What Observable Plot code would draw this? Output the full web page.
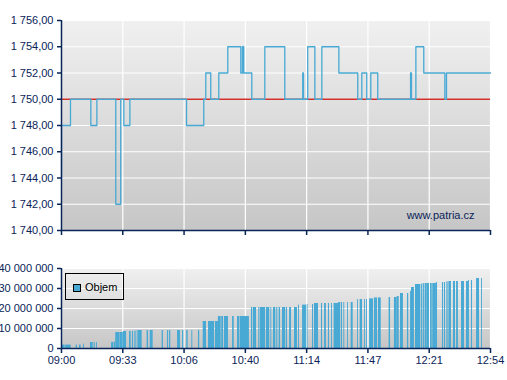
<!DOCTYPE html>
<html>
<head>
<meta charset="utf-8">
<script src="https://cdn.jsdelivr.net/npm/d3@7"></script>
<script src="https://cdn.jsdelivr.net/npm/@observablehq/plot@0.6"></script>
<style>
  html, body { margin: 0; padding: 0; background: #fff; overflow: hidden; }
  #wrap { position: relative; width: 507px; height: 380px; font-family: "Liberation Sans", Arial, sans-serif; }
  #topPanel, #bottomPanel { position: absolute; left: 0; }
  #topPanel { top: 0; }
  #bottomPanel { top: 240px; }
  #legend { position: absolute; left: 65px; top: 273px; width: 59px; height: 27px; border: 1px solid #000; box-sizing: border-box; }
  #legend .sw { position: absolute; left: 7px; top: 10px; width: 8px; height: 8px; box-sizing: border-box; border: 1px solid #000; background: #47a9d4; }
  #legend .lb { position: absolute; left: 19px; top: 7px; font-size: 11px; color: #000; line-height: 13px; }
</style>
</head>
<body>
<div id="wrap">
  <div id="topPanel"></div>
  <div id="bottomPanel"></div>
  <div id="legend"><div class="sw"></div><div class="lb"></div></div>
</div>
<script>
// ---- data ----
// time axis: minutes after 09:00
const timeTickLabels = ["09:00", "09:33", "10:06", "10:40", "11:14", "11:47", "12:21", "12:54"];
const sessionMinutes = 234;

// price steps (minutes after 09:00, price)
const priceTime = [0, 0, 4.9, 16.0, 19.3, 29.6, 32.3, 34.0, 37.3, 68.2, 77.6, 78.7, 81.4, 85.8, 90.7, 97.8, 98.7, 99.4, 103.8, 110.9, 121.8, 131.6, 132.0, 134.3, 138.2, 142.0, 151.3, 161.6, 163.8, 166.5, 168.7, 172.5, 190.4, 190.9, 193.3, 197.6, 209.1, 210.0, 234];
const priceValue = [1744, 1748, 1750, 1748, 1750, 1742, 1750, 1748, 1750, 1748, 1750, 1752, 1750, 1752, 1754, 1752, 1754, 1752, 1750, 1754, 1750, 1752, 1750, 1754, 1750, 1754, 1752, 1750, 1752, 1750, 1752, 1750, 1752, 1750, 1754, 1752, 1750, 1752, 1752];
const previousClose = 1750;
const priceTicks = [1740, 1742, 1744, 1746, 1748, 1750, 1752, 1754, 1756];

// cumulative volume bars (start/end minutes after 09:00, millions of shares)
const volStart = [0, 2.3, 8.0, 9.8, 12.0, 15.8, 17.8, 19.1, 27.3, 28.7, 29.6, 32.2, 33.8, 37.1, 38.7, 40.0, 41.3, 42.0, 46.7, 48.4, 54.9, 57.8, 58.9, 63.3, 66.0, 68.3, 71.1, 74.7, 77.3,
  80.2, 84.0, 85.6, 87.4, 88.9, 93.3, 96.0, 97.6, 103.6, 104.6, 107.6, 108.5, 111.8, 114.2, 115.6, 117.4, 118.7, 120.5, 122.7, 124.4, 127.1, 129.3, 131.5, 134.0, 136.9, 138.0, 141.8, 143.5, 145.6, 147.3, 148.7, 151.1, 152.6, 154.0, 156.0,
  158.0, 161.5, 162.9, 165.3, 166.4, 168.0, 168.5, 170.7, 171.3, 172.9, 178.7, 181.6, 183.1, 184.9, 188.7, 190.4, 190.9, 193.1, 196.4, 197.5, 198.5, 199.6, 201.3, 202.5, 204.5, 207.8, 208.9, 210.2, 211.3, 213.8, 215.5, 218.2, 220.9, 222.0, 223.6, 226.4, 229.1];
const volEnd = [2.0, 5.3, 8.7, 10.7, 12.5, 17.3, 18.4, 19.6, 28.4, 29.5, 32.0, 33.7, 35.5, 38.0, 39.3, 40.7, 41.8, 44.0, 47.5, 50.0, 55.6, 58.4, 59.6, 64.9, 66.7, 69.1, 71.6, 75.4, 79.1,
  83.5, 85.6, 87.1, 88.4, 91.1, 94.2, 97.3, 102.5, 104.2, 106.4, 108.2, 111.3, 113.6, 114.7, 116.9, 118.0, 119.5, 122.3, 123.3, 125.5, 128.7, 129.8, 133.6, 134.5, 137.5, 140.2, 142.4, 144.5, 146.2, 147.8, 151.1, 152.2, 153.3, 154.5, 156.5,
  159.1, 162.0, 164.2, 165.8, 166.9, 168.5, 170.2, 171.3, 172.4, 174.4, 179.5, 183.1, 184.2, 186.5, 189.4, 190.9, 192.5, 196.0, 197.1, 198.2, 199.5, 200.7, 202.2, 204.5, 205.1, 208.4, 209.5, 210.9, 212.7, 214.9, 216.5, 219.8, 222.0, 222.5, 224.2, 228.0, 229.6];
const volValue = [1.7, 1.7, 1.7, 1.7, 2.2, 3.0, 3.0, 3.0, 3.0, 3.2, 8.0, 8.0, 8.5, 8.5, 8.6, 8.7, 9.0, 9.0, 9.0, 9.0, 9.0, 9.0, 9.0, 9.0, 9.0, 9.0, 9.0, 9.0, 13.5,
  13.5, 13.5, 16.0, 16.0, 16.0, 16.0, 16.0, 16.0, 20.5, 20.5, 20.5, 20.5, 20.5, 20.5, 20.5, 20.5, 20.5, 20.5, 20.5, 20.5, 20.5, 21.7, 21.7, 22.0, 22.0, 22.5, 22.5, 22.5, 22.5, 22.5, 22.5, 23.0, 23.0, 23.0, 23.0,
  23.0, 24.5, 24.5, 24.5, 24.5, 24.8, 24.8, 25.3, 25.3, 25.3, 25.5, 25.5, 26.0, 27.5, 27.5, 28.5, 30.5, 32.0, 32.2, 32.5, 32.5, 32.5, 32.5, 32.5, 33.0, 33.0, 33.0, 33.3, 33.5, 33.5, 33.5, 33.5, 33.5, 34.0, 34.0, 35.0, 35.0];
const volTicks = [0, 10, 20, 30, 40];

const watermark = "www.patria.cz";
const legendLabel = "Objem";

// ---- styling ----
const navy = "#0a2458";
const blue = "#47a9d4";
const timeTicks = d3.range(timeTickLabels.length).map(i => i * sessionMinutes / (timeTickLabels.length - 1));
const czLocale = d3.formatLocale({decimal: ",", thousands: " ", grouping: [3], currency: ["", ""]});
const fmtPrice = czLocale.format(",.2f");
const fmtVol = czLocale.format(",.0f");

function addGradient(svg, id) {
  const defs = d3.select(svg).insert("defs", ":first-child");
  const g = defs.append("linearGradient").attr("id", id).attr("x1", 0).attr("y1", 0).attr("x2", 0).attr("y2", 1);
  g.append("stop").attr("offset", "0%").attr("stop-color", "#f0f0f0");
  g.append("stop").attr("offset", "100%").attr("stop-color", "#c6c6c6");
}

const baseStyle = {fontFamily: "'Liberation Sans', Arial, sans-serif", fontSize: "11px", color: navy, background: "transparent", overflow: "visible"};

const priceData = priceTime.map((t, i) => ({t, p: priceValue[i]}));

const priceChart = Plot.plot({
  width: 507, height: 240,
  marginLeft: 61, marginRight: 17, marginTop: 20, marginBottom: 10,
  style: baseStyle,
  x: {domain: [0, sessionMinutes]},
  y: {domain: [1740, 1756]},
  marks: [
    Plot.frame({fill: "url(#gradTop)", stroke: null}),
    Plot.gridX(timeTicks, {stroke: "#fff", strokeOpacity: 1, strokeWidth: 1.2}),
    Plot.gridY(priceTicks, {stroke: "#fff", strokeOpacity: 1, strokeWidth: 1.2}),
    Plot.ruleY([previousClose], {stroke: "#d2302a", strokeWidth: 1.3}),
    Plot.line(priceData, {x: "t", y: "p", curve: "step-after", stroke: blue, strokeWidth: 1.3}),
    Plot.text([watermark], {frameAnchor: "bottom-right", dx: -16, dy: -12, fill: navy, fontSize: 11}),
    Plot.axisX(timeTicks, {tickSize: 5, tickFormat: () => "", strokeWidth: 1.5, label: null}),
    Plot.axisY(priceTicks, {tickSize: 4, tickPadding: 4, tickFormat: fmtPrice, strokeWidth: 1.5, label: null}),
    Plot.ruleX([0], {stroke: navy, strokeWidth: 1.5}),
    Plot.ruleY([1740], {stroke: navy, strokeWidth: 1.5})
  ]
});
addGradient(priceChart, "gradTop");
document.getElementById("topPanel").appendChild(priceChart);

const volIdx = d3.range(volValue.length);
const volumeChart = Plot.plot({
  width: 507, height: 140,
  marginLeft: 61, marginRight: 17, marginTop: 28, marginBottom: 32,
  style: baseStyle,
  x: {domain: [0, sessionMinutes]},
  y: {domain: [0, 40]},
  marks: [
    Plot.frame({fill: "url(#gradBot)", stroke: null}),
    Plot.gridX(timeTicks, {stroke: "#fff", strokeOpacity: 1, strokeWidth: 1.2}),
    Plot.gridY(volTicks, {stroke: "#fff", strokeOpacity: 1, strokeWidth: 1.2}),
    Plot.rectY(volIdx, {x1: i => volStart[i], x2: i => volEnd[i], y: i => volValue[i], fill: blue}),
    Plot.axisX(timeTicks, {tickSize: 5, tickPadding: 3, tickFormat: (d, i) => timeTickLabels[i], strokeWidth: 1.5, label: null}),
    Plot.axisY(volTicks, {tickSize: 4, tickPadding: 4, tickFormat: d => fmtVol(d * 1e6), strokeWidth: 1.5, label: null}),
    Plot.ruleX([0], {stroke: navy, strokeWidth: 1.5}),
    Plot.ruleY([0], {stroke: navy, strokeWidth: 1.5})
  ]
});
addGradient(volumeChart, "gradBot");
document.getElementById("bottomPanel").appendChild(volumeChart);
document.querySelector("#legend .lb").textContent = legendLabel;
</script>
</body>
</html>
